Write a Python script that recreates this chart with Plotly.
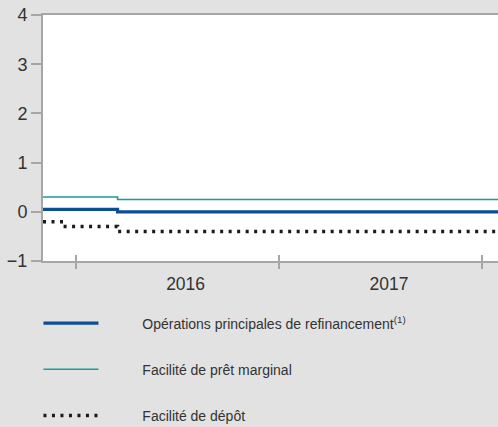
import plotly.graph_objects as go

# data
dates_mro = ["2015-11-03", "2016-03-16", "2018-01-29"]
mro = [0.05, 0.00, 0.00]
dates_mlf = ["2015-11-03", "2016-03-16", "2018-01-29"]
mlf = [0.30, 0.25, 0.25]
dates_dep = ["2015-11-03", "2015-12-09", "2016-03-16", "2018-01-29"]
dep = [-0.20, -0.30, -0.40, -0.40]
names = ["Opérations principales de refinancement<sup>(1)</sup>",
         "Facilité de prêt marginal",
         "Facilité de dépôt"]
y_ticks = [-1, 0, 1, 2, 3, 4]
y_ticktext = ["\u22121", "0", "1", "2", "3", "4"]
x_range = ["2015-11-03", "2018-01-29"]

AXIS = "#a6a6a6"
BG = "#e2e2e2"
PAD = "\u00a0" * 10

fig = go.Figure()
fig.add_trace(go.Scatter(x=dates_mro, y=mro, mode="lines", line_shape="hv",
                         line=dict(color="#0b4e96", width=3.2), name=PAD + names[0],
                         legendgroup="a"))
fig.add_trace(go.Scatter(x=dates_mlf, y=mlf, mode="lines", line_shape="hv",
                         line=dict(color="#1b9aa0", width=1.6), name=PAD + names[1],
                         legendgroup="b"))
fig.add_trace(go.Scatter(x=dates_dep, y=dep, mode="lines", line_shape="hv",
                         line=dict(color="#1a1a1a", width=3.5, dash="3px,5.5px"),
                         name=PAD + names[2], legendgroup="c"))
# invisible trace for inside tick marks on overlay axis
fig.add_trace(go.Scatter(x=x_range, y=[None, None], xaxis="x2", showlegend=False,
                         hoverinfo="skip"))

fig.update_layout(
    width=498, height=427,
    paper_bgcolor=BG, plot_bgcolor="white",
    margin=dict(l=43, r=0, t=15, b=166, autoexpand=False),
    font=dict(family="Liberation Sans, Arial, sans-serif", color="#333333"),
    xaxis=dict(type="date", range=x_range, dtick="M12", tick0="2016-01-01",
               ticklabelmode="period", tickformat="%Y", ticks="outside",
               ticklen=6, tickwidth=1.5, tickcolor=AXIS, ticklabelshift=8,
               showline=True, linecolor=AXIS, linewidth=2, mirror=True,
               showgrid=False, zeroline=False,
               tickfont=dict(size=17.5, color="#333333")),
    xaxis2=dict(type="date", range=x_range, dtick="M12", tick0="2016-01-01",
                overlaying="x", ticks="inside", ticklen=6, tickwidth=1.5,
                tickcolor=AXIS, showticklabels=False, showgrid=False,
                zeroline=False, showline=False, side="bottom", anchor="y"),
    yaxis=dict(range=[-1, 4], tickvals=y_ticks, ticktext=y_ticktext,
               ticks="outside", ticklen=10, tickwidth=1.5, tickcolor=AXIS,
               showline=True, linecolor=AXIS, linewidth=2,
               showgrid=False, zeroline=False,
               tickfont=dict(size=18, color="#333333")),
    legend=dict(orientation="v", x=-0.01, xanchor="left", y=-0.189, yanchor="top",
                bgcolor="rgba(0,0,0,0)", font=dict(size=14, color="#333333"),
                itemwidth=55, tracegroupgap=25),
    showlegend=True,
)

fig.write_html("out.html", config={"displayModeBar": False},
               post_script="document.body.style.margin='0';"
                           "document.body.style.overflow='hidden';")
